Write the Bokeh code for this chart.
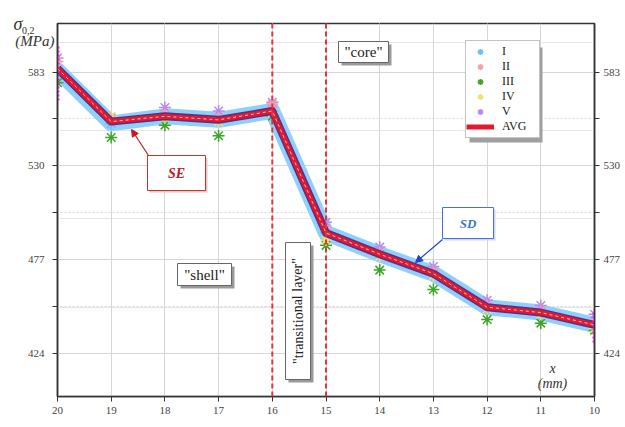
from bokeh.plotting import figure
from bokeh.models import (Range1d, LinearAxis, FixedTicker, Span, Label, Arrow, NormalHead,
                          BoxAnnotation, Legend, LegendItem, ColumnDataSource, Grid)
from bokeh.embed import file_html
from bokeh.resources import INLINE

# ---------------- data ----------------
x_mm = [20, 19, 18, 17, 16, 15, 14, 13, 12, 11, 10]
s_I = [584, 554, 558, 556, 561, 492, 480, 469, 450, 447, 440]
s_II = [589, 556, 559, 557, 565, 494, 481, 470, 451, 448, 441]
s_III = [577, 546, 553, 547, 558, 485, 471, 460, 443, 441, 437]
s_IV = [583, 558, 557, 555, 560, 488, 479, 468, 449, 446, 438]
s_V = [591, 557, 563, 561, 566, 498, 484, 473, 454, 451, 446]
avg = [585, 555, 558, 556, 561, 492, 480, 469, 450, 447, 440]
err_x = [20, 10]
err_lo = [567, 430]
err_hi = [598, 448]
y_ticks = [583, 530, 477, 424]
y_minor = [556.5, 503.5, 450.5]
x_ticks = list(range(10, 21))
zone_edges = [16, 15]

SERIF = "Liberation Serif"
AXFONT = "serif"

W, H = 624, 426
FX0, FX1, FY0, FY1 = 57, 594, 23, 396          # frame edges in picture pixels
p = figure(width=W, height=H, output_backend="svg", toolbar_location=None,
           x_range=Range1d(20, 10), y_range=Range1d(399.5, 610.5),
           x_axis_location=None, y_axis_location=None,
           min_border_left=FX0, min_border_right=W - FX1,
           min_border_top=FY0, min_border_bottom=H - FY1)
p.outline_line_color = "#333333"
p.outline_line_width = 1.5
p.background_fill_color = "white"
p.border_fill_color = "white"

def dx(px):
    return 20 + (px - FX0) / (FX1 - FX0) * (10 - 20)
def dy(py):
    return 610.5 + (py - FY0) / (FY1 - FY0) * (399.5 - 610.5)

# ---------------- grids ----------------
p.add_layout(Grid(dimension=0, ticker=FixedTicker(ticks=x_ticks),
                  grid_line_color="#d6d6d6", grid_line_width=1))
p.add_layout(Grid(dimension=1, ticker=FixedTicker(ticks=y_ticks, minor_ticks=y_minor),
                  grid_line_color="#d6d6d6", grid_line_width=1,
                  minor_grid_line_color="#d9d9d9", minor_grid_line_dash="2 2"))

# ---------------- axes ----------------
def style(ax, standoff):
    ax.axis_line_color = "#333333"
    ax.axis_line_width = 1.5
    ax.major_tick_line_color = "#333333"
    ax.minor_tick_line_color = "#333333"
    ax.major_tick_in = 0
    ax.major_tick_out = 5
    ax.minor_tick_in = 0
    ax.minor_tick_out = 5
    ax.major_label_text_font = AXFONT
    ax.major_label_text_font_size = "11px"
    ax.major_label_text_color = "#444444"
    ax.major_label_standoff = standoff

yl = LinearAxis(ticker=FixedTicker(ticks=y_ticks, minor_ticks=y_minor))
style(yl, 8)
p.add_layout(yl, "left")
yr = LinearAxis(ticker=FixedTicker(ticks=y_ticks, minor_ticks=y_minor))
style(yr, 4)
p.add_layout(yr, "right")
xb = LinearAxis(ticker=FixedTicker(ticks=x_ticks))
style(xb, 5)
xb.minor_tick_out = 0
p.add_layout(xb, "below")

# y-axis title pieces, written as lone tick labels of bare extra axes on the left
def title_axis(text, py, size, style, standoff):
    loc = round(dy(py), 2)
    ax = LinearAxis(ticker=FixedTicker(ticks=[loc], minor_ticks=[]),
                    major_label_overrides={loc: text},
                    axis_line_alpha=0, major_tick_out=0, major_tick_in=0,
                    minor_tick_out=0, minor_tick_in=0,
                    major_label_text_font=AXFONT, major_label_text_font_size=size,
                    major_label_text_font_style=style, major_label_text_color="#333333",
                    major_label_standoff=standoff)
    p.add_layout(ax, "left")

title_axis("0,2", 30, "10px", "normal", -10)
title_axis("(MPa)", 41, "15px", "italic", -36)
title_axis("σ", 23.3, "18px", "italic", -10)

# ---------------- data glyphs ----------------
src = ColumnDataSource(dict(x=x_mm, I=s_I, II=s_II, III=s_III, IV=s_IV, V=s_V, avg=avg))

p.line('x', 'I', source=src, line_width=16, line_color="#8fd0fb", line_join="round", line_cap="round")
rI = p.scatter('x', 'I', source=src, marker="asterisk", size=12, line_color="#6cc0f5", line_width=1.5)
rV = p.scatter('x', 'V', source=src, marker="asterisk", size=12, line_color="#b68af0", line_width=1.5)
rIII = p.scatter('x', 'III', source=src, marker="asterisk", size=12, line_color="#3fa52a", line_width=1.5)
rIV = p.scatter('x', 'IV', source=src, marker="asterisk", size=12, line_color="#f2e070", line_width=1.5)
rII = p.scatter('x', 'II', source=src, marker="asterisk", size=12, line_color="#f2a0a0", line_width=1.5)
p.line('x', 'avg', source=src, line_width=8, line_color="#5a2d8c", line_join="round")
rAVG = p.line('x', 'avg', source=src, line_width=5, line_color="#e5182c", line_join="round")
p.line('x', 'avg', source=src, line_width=1, line_color="#ffc8c8", line_dash="3 3")

p.segment(x0=err_x, y0=err_lo, x1=err_x, y1=err_hi, line_color="#ff22ee", line_width=4, line_dash="2 2")

for z in zone_edges:
    p.add_layout(Span(location=z, dimension="height", line_color="#e8333f",
                      line_width=2, line_dash="5 3"))

# ---------------- boxed labels ----------------
def rect(l, t, r, b, fill="white", line=None, lw=1.0):
    p.add_layout(BoxAnnotation(left=dx(l), right=dx(r), top=dy(t), bottom=dy(b),
                               fill_color=fill, fill_alpha=1,
                               line_color=line if line else fill, line_alpha=1 if line else 0,
                               line_width=lw))

def boxed(text, l, t, r, b, size, color="#222222", border="#666666", style="normal",
          angle=0.0, shadow=3, shadow_color="#9a9a9a"):
    if shadow:
        rect(l + shadow, t + shadow, r + shadow, b + shadow, fill=shadow_color)
    rect(l, t, r, b, fill="white", line=border)
    p.add_layout(Label(x=dx((l + r) / 2), y=dy((t + b) / 2), text=text, text_font=SERIF,
                       text_font_size=size, text_font_style=style, text_color=color,
                       text_align="center", text_baseline="middle", angle=angle))

boxed('"core"', 338, 41, 388, 62, "15px")
boxed('"shell"', 177, 263, 231, 285, "15px")
boxed('"transitional layer"', 285, 242, 310, 379, "14px", angle=1.5708)
boxed("SE", 147, 155, 205, 190, "14px", color="#c01a28", border="#c0392b", style="bold italic",
      shadow=2, shadow_color="#e4c8c8")
boxed("SD", 442, 207, 493, 238, "13px", color="#3a78c0", border="#4a6ee0", style="bold italic",
      shadow=2, shadow_color="#cdd8f2")

p.add_layout(Arrow(x_start=dx(148), y_start=dy(155), x_end=dx(131), y_end=dy(129),
                   line_color="#c01a28", line_width=1.2,
                   end=NormalHead(size=7, line_color="#c01a28", fill_color="#c01a28")))
p.add_layout(Arrow(x_start=dx(442), y_start=dy(239), x_end=dx(415), y_end=dy(262),
                   line_color="#2040e0", line_width=1.2,
                   end=NormalHead(size=7, line_color="#2040e0", fill_color="#2040e0")))

p.add_layout(Label(x=dx(552), y=dy(368), text="x", text_font=SERIF, text_font_size="14px",
                   text_font_style="italic", text_color="#333333", text_align="center",
                   text_baseline="middle"))
p.add_layout(Label(x=dx(552), y=dy(383), text="(mm)", text_font=SERIF, text_font_size="14px",
                   text_font_style="italic", text_color="#333333", text_align="center",
                   text_baseline="middle"))

# ---------------- legend ----------------
rect(469, 47, 542, 142, fill="#a0a0a0")
legend = Legend(items=[LegendItem(label="I", renderers=[rI]),
                       LegendItem(label="II", renderers=[rII]),
                       LegendItem(label="III", renderers=[rIII]),
                       LegendItem(label="IV", renderers=[rIV]),
                       LegendItem(label="V", renderers=[rV]),
                       LegendItem(label="AVG", renderers=[rAVG])],
                location=(465 - FX0, FY1 - 138), margin=0,
                padding=dict(left=0, right=4, top=3, bottom=3), spacing=0,
                label_height=12, glyph_height=15, glyph_width=28, label_standoff=8,
                label_width=33, label_text_font=SERIF, label_text_font_size="12px",
                label_text_color="#222222", border_line_color="#888888",
                background_fill_color="white", background_fill_alpha=1)
p.add_layout(legend, "center")

open("out.html", "w").write(file_html(p, INLINE))
